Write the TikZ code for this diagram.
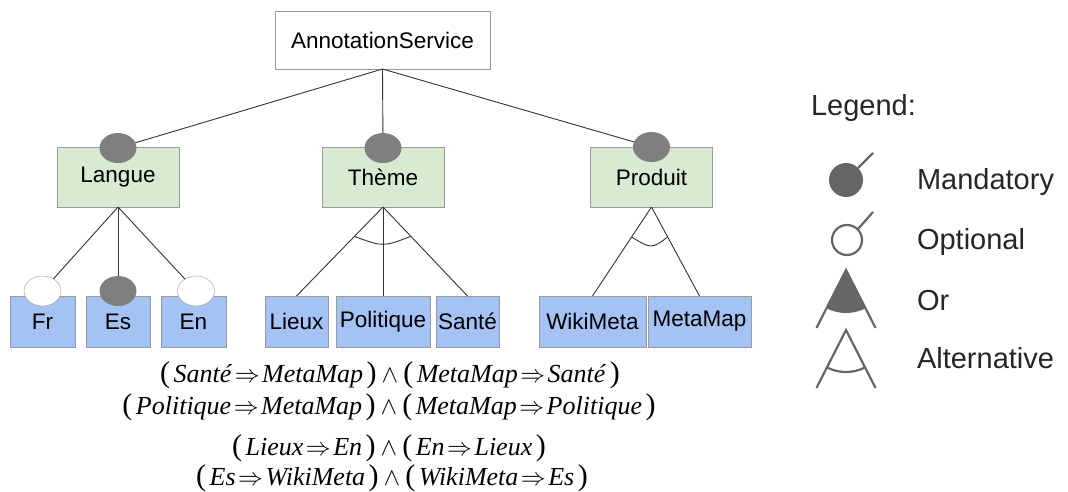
\documentclass[tikz,border=0pt]{standalone}
\usepackage{fontspec}
\setmainfont{Liberation Sans}
\newfontfamily\eqfont{Liberation Serif}
\usetikzlibrary{shapes.geometric,calc}
\definecolor{boxline}{HTML}{9A9A9A}
\definecolor{featgreen}{HTML}{D9EAD3}
\definecolor{leafblue}{HTML}{A4C2F4}
\definecolor{mandgray}{HTML}{7F7F7F}
\definecolor{leggray}{HTML}{666666}
\definecolor{linec}{HTML}{333333}
\newcommand{\eqi}[1]{\textit{#1}}
\newcommand{\lp}{{\fontsize{30}{30}\selectfont(}\kern3.5pt}
\newcommand{\rp}{\kern3.5pt{\fontsize{30}{30}\selectfont)}}
\newcommand{\imp}{\kern2.5pt{\fontsize{23}{23}\selectfont$\Rightarrow$}\kern2.5pt}
\newcommand{\conj}{\kern5pt{\fontsize{25}{25}\selectfont$\wedge$}\kern5pt}
\begin{document}
\begin{tikzpicture}[x=1pt,y=-1pt,
 every node/.style={inner sep=0pt, outer sep=0pt},
 lbl/.style={font=\fontsize{22.5}{26}\selectfont},
 rootbox/.style={lbl, draw=boxline, fill=white, minimum width=215pt, minimum height=58pt},
 featbox/.style={lbl, draw=boxline, fill=featgreen, minimum width=122pt, minimum height=60pt},
 leafbox/.style={lbl, draw=boxline, fill=leafblue, minimum height=51pt},
 mand/.style={ellipse, fill=mandgray, minimum width=37pt, minimum height=30pt},
 opt/.style={ellipse, draw=boxline, fill=white, minimum width=37pt, minimum height=30pt},
 conn/.style={draw=linec, line width=0.9pt},
 eq/.style={font=\eqfont\fontsize{26}{30}\selectfont},
 legtxt/.style={anchor=west, font=\fontsize{29}{34}\selectfont, text=black!85},
 glyph/.style={draw=leggray, line width=2.2pt}
]
\useasboundingbox (0,0) rectangle (1068,491);

% boxes
\node[rootbox] (root) at (382.5,40) {AnnotationService};
\node[featbox] (lang) at (118,177) {Langue};
\node[featbox] (theme) at (383,177) {Thème};
\node[featbox] (prod) at (651.5,177) {Produit};

\node[leafbox, minimum width=65pt] (fr) at (42.5,321.5) {Fr};
\node[leafbox, minimum width=64pt] (es) at (118,321.5) {Es};
\node[leafbox, minimum width=65pt] (en) at (193.5,321.5) {En};
\node[leafbox, minimum width=63pt] (lieux) at (296.5,321.5) {Lieux};
\node[leafbox, minimum width=94pt] (pol) at (383,321.5) {Politique};
\node[leafbox, minimum width=63pt] (sante) at (467.5,321.5) {Santé};
\node[leafbox, minimum width=107pt] (wiki) at (592.5,321.5) {WikiMeta};
\node[leafbox, minimum width=103pt] (mmap) at (699.5,321.5) {MetaMap};

% decorations (mandatory / optional)
\node[mand] (mL) at (118,148) {};
\node[mand] (mT) at (383,148) {};
\node[mand] (mP) at (651.5,147) {};
\node[opt] (oFr) at (42.5,291) {};
\node[mand] (mEs) at (118,291) {};
\node[opt] (oEn) at (196,291) {};

% connectors
\draw[conn] (root.south) -- (mL);
\draw[conn] (root.south) -- (mT);
\draw[conn] (root.south) -- (mP);

\draw[conn] (lang.south) -- (oFr);
\draw[conn] (lang.south) -- (mEs);
\draw[conn] (lang.south) -- (oEn);

\draw[conn] (theme.south) -- (lieux.north);
\draw[conn] (theme.south) -- (pol.north);
\draw[conn] (theme.south) -- (sante.north);
\draw[conn] ($(theme.south)!0.33!(lieux.north)$) .. controls ($(theme.south)+(0,40)$) .. ($(theme.south)!0.33!(sante.north)$);

\draw[conn] (prod.south) -- (wiki.north);
\draw[conn] (prod.south) -- (mmap.north);
\draw[conn] ($(prod.south)!0.337!(wiki.north)$) .. controls ($(prod.south)+(0,42)$) .. ($(prod.south)!0.337!(mmap.north)$);

% constraints
\node[eq] (eq1) at (390,375) {\lp\eqi{Santé}\imp\eqi{MetaMap}\rp\conj\lp\eqi{MetaMap}\imp\eqi{Santé}\rp};
\node[eq] (eq2) at (389,407) {\lp\eqi{Politique}\imp\eqi{MetaMap}\rp\conj\lp\eqi{MetaMap}\imp\eqi{Politique}\rp};
\node[eq] (eq3) at (389,448) {\lp\eqi{Lieux}\imp\eqi{En}\rp\conj\lp\eqi{En}\imp\eqi{Lieux}\rp};
\node[eq] (eq4) at (392,478) {\lp\eqi{Es}\imp\eqi{WikiMeta}\rp\conj\lp\eqi{WikiMeta}\imp\eqi{Es}\rp};

% legend
\node[legtxt] (legt) at (811,108) {Legend:};
\node[legtxt] (lmand) at (917,182) {Mandatory};
\node[legtxt] (lopt) at (917,242) {Optional};
\node[legtxt] (lor) at (917,301) {Or};
\node[legtxt] (lalt) at (917,358) {Alternative};

\fill[leggray] (846,180) circle (17);
\draw[glyph] (858,168) -- (873,153);
\draw[glyph, fill=white] (847,240) circle (15);
\draw[glyph] (858,229) -- (873,212);

\fill[leggray] (846,270) -- ++(117:43) arc[start angle=117, end angle=63, radius=43] -- cycle;
\draw[glyph] ($(846,270)+(117:65)$) -- (846,270) -- ($(846,270)+(63:65)$);

\draw[glyph] ($(846,330)+(117:65)$) -- (846,330) -- ($(846,330)+(63:65)$);
\draw[glyph] ($(846,330)+(117:42)$) arc[start angle=117, end angle=63, radius=42];
\end{tikzpicture}
\end{document}
